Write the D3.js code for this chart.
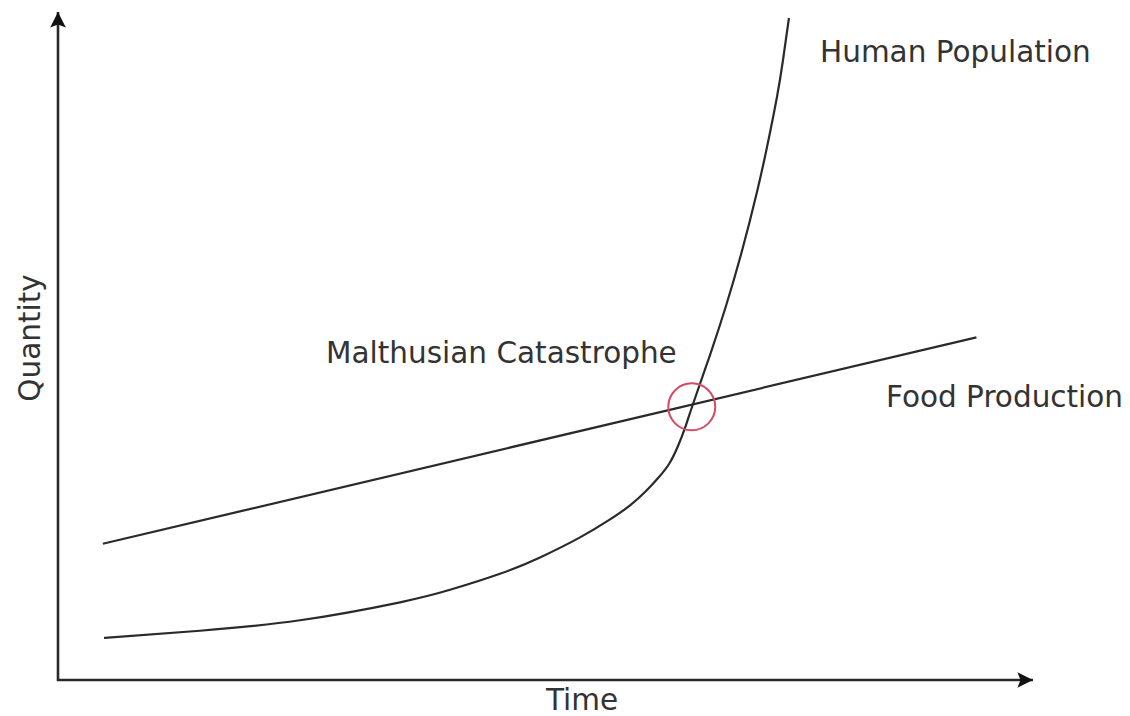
<!DOCTYPE html>
<html lang="en">
<head>
  <meta charset="UTF-8">
  <title>Malthusian Catastrophe</title>
  <script src="https://d3js.org/d3.v7.min.js"></script>
  <style>
    body { margin: 0; background: #fff; }
    text { font-family: "DejaVu Sans", sans-serif; fill: #333; }
  </style>
</head>
<body>
  <svg id="chart" width="1130" height="716"></svg>

  <script>
    // values (abstract time / quantity units, 0-100)
    const popTime = [4.72, 14.56, 24.82, 35.08, 40.21, 45.33, 49.44, 53.54, 56.62, 58.67, 60.31, 61.64,
                     62.67, 63.59, 64.41, 65.13, 66.87, 68.51, 70.15, 71.69, 72.72, 73.74, 74.36, 74.97];
    const popQty  = [6.29, 7.37, 8.94, 11.63, 13.50, 15.90, 18.35, 21.35, 24.04, 26.14, 28.29, 30.39,
                     32.34, 35.03, 38.17, 41.32, 48.65, 55.99, 64.22, 73.05, 79.79, 87.28, 92.81, 99.10];
    const foodTime = [4.6, 94.2];
    const foodQty  = [20.4, 51.3];
    const crossing = [65.0, 40.9];

    const svg = d3.select("#chart");

    const x = d3.scaleLinear().domain([0, 100]).range([58, 1033]);
    const y = d3.scaleLinear().domain([0, 100]).range([680, 12]);

    // arrow heads
    svg.append("defs").append("marker")
      .attr("id", "arrow")
      .attr("viewBox", "0 0 10 10")
      .attr("refX", 10).attr("refY", 5)
      .attr("markerWidth", 6).attr("markerHeight", 6)
      .attr("markerUnits", "strokeWidth")
      .attr("orient", "auto")
      .append("path")
      .attr("d", "M0,0 L10,5 L0,10 L2,5 Z")
      .attr("fill", "#111");

    // axes
    svg.append("line")
      .attr("x1", x(0) - 1).attr("y1", y(0))
      .attr("x2", x(100)).attr("y2", y(0))
      .attr("stroke", "#2a2a2a").attr("stroke-width", 2.6)
      .attr("marker-end", "url(#arrow)");
    svg.append("line")
      .attr("x1", x(0)).attr("y1", y(0) + 1)
      .attr("x2", x(0)).attr("y2", y(100))
      .attr("stroke", "#2a2a2a").attr("stroke-width", 2.6)
      .attr("marker-end", "url(#arrow)");

    // food production
    svg.append("path")
      .datum(d3.zip(foodTime, foodQty))
      .attr("d", d3.line().x(d => x(d[0])).y(d => y(d[1])))
      .attr("fill", "none")
      .attr("stroke", "#2a2a2a")
      .attr("stroke-width", 2.2);

    // human population
    svg.append("path")
      .datum(d3.zip(popTime, popQty))
      .attr("d", d3.line().x(d => x(d[0])).y(d => y(d[1])).curve(d3.curveNatural))
      .attr("fill", "none")
      .attr("stroke", "#2a2a2a")
      .attr("stroke-width", 2.2);

    // catastrophe marker
    svg.append("circle")
      .attr("cx", x(crossing[0])).attr("cy", y(crossing[1]))
      .attr("r", 23.5)
      .attr("fill", "none")
      .attr("stroke", "#d44a62")
      .attr("stroke-width", 2);

    // labels
    svg.append("text").attr("x", 820).attr("y", 62)
      .attr("font-size", 29.5).text("Human Population");
    svg.append("text").attr("x", 326).attr("y", 363)
      .attr("font-size", 29.5).text("Malthusian Catastrophe");
    svg.append("text").attr("x", 886).attr("y", 407)
      .attr("font-size", 29.5).text("Food Production");
    svg.append("text").attr("x", 582).attr("y", 710)
      .attr("text-anchor", "middle")
      .attr("font-size", 29.5).text("Time");
    svg.append("text")
      .attr("transform", "translate(40,338) rotate(-90)")
      .attr("text-anchor", "middle")
      .attr("font-size", 29.5).text("Quantity");
  </script>
</body>
</html>
